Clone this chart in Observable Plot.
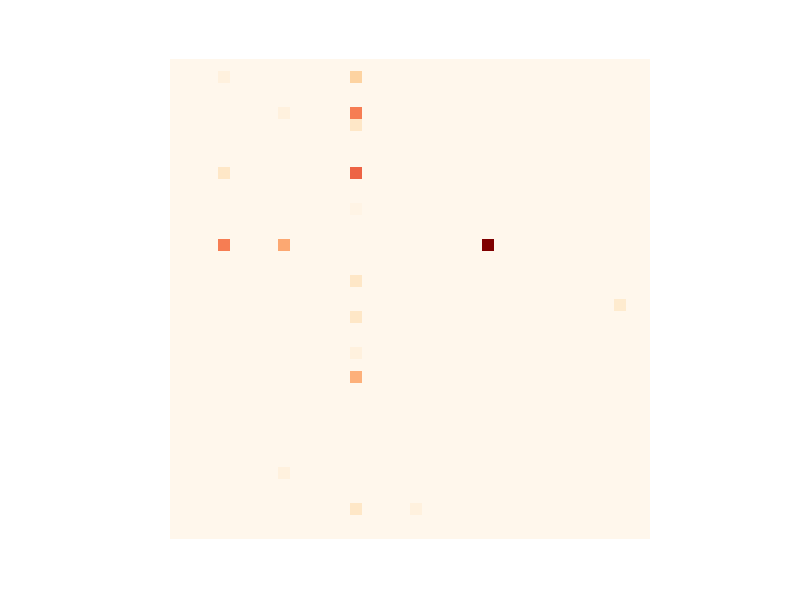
<!DOCTYPE html>
<html>
<head>
<meta charset="utf-8">
<script src="https://cdn.jsdelivr.net/npm/d3@7"></script>
<script src="https://cdn.jsdelivr.net/npm/@observablehq/plot@0.6"></script>
<style>
  html, body { margin: 0; padding: 0; background: #fff; }
</style>
</head>
<body>
<div id="chart"></div>
<script>
// Grid size
const nRows = 40;
const nCols = 40;

// Non-zero cells (row index, column index, count)
const cellRows = [1, 1, 4, 4, 5, 9, 9, 12, 15, 15, 15, 18, 20, 21, 24, 26, 34, 37, 37];
const cellCols = [4, 15, 9, 15, 15, 4, 15, 15, 4, 9, 26, 15, 37, 15, 15, 15, 9, 15, 20];
const cellValues = [2, 10, 2, 22, 5, 5, 25, 1, 22, 17, 40, 5, 4, 5, 2, 16, 2, 5, 2];

// Build full matrix table
const lookup = new Map();
cellRows.forEach((r, k) => lookup.set(r + "," + cellCols[k], cellValues[k]));
const table = [];
for (let r = 0; r < nRows; r++) {
  for (let c = 0; c < nCols; c++) {
    table.push({row: r, col: c, value: lookup.get(r + "," + c) ?? 0});
  }
}

const chart = Plot.plot({
  width: 800,
  height: 600,
  marginLeft: 169.5,
  marginRight: 149.5,
  marginTop: 58.5,
  marginBottom: 60.5,
  x: {type: "band", domain: d3.range(nCols), padding: 0, axis: null},
  y: {type: "band", domain: d3.range(nRows), padding: 0, axis: null},
  color: {type: "linear", scheme: "OrRd", domain: [0, d3.max(cellValues)]},
  marks: [
    Plot.cell(table, {x: "col", y: "row", fill: "value", inset: 0, shapeRendering: "crispEdges"})
  ]
});
document.getElementById("chart").appendChild(chart);
</script>
</body>
</html>
